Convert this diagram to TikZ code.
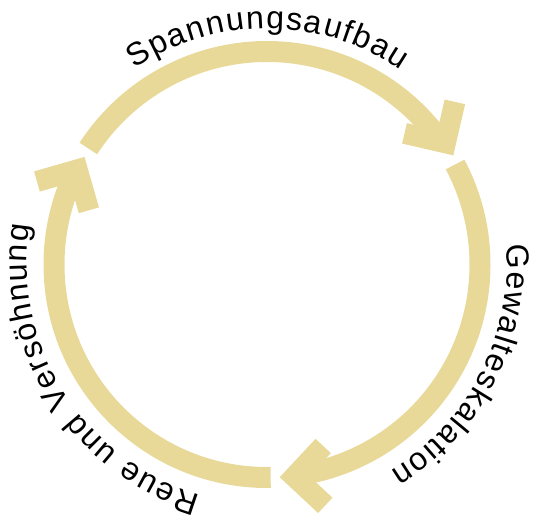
\documentclass[tikz,border=0pt]{standalone}
\usepackage{fontspec}
\setmainfont{Liberation Sans}
\usetikzlibrary{decorations.text}
\definecolor{ringcol}{RGB}{232,217,153}
\tikzstyle{ring} = [draw=ringcol, line width=21pt, line cap=butt]
\tikzstyle{head} = [draw=ringcol, line width=21pt, line cap=butt, line join=miter]
\tikzstyle{arclabel} = [decorate, decoration={text along path, text align=center}]
\newcommand{\cyclefont}{\fontsize{32}{38}\selectfont\kern1.6pt}
% chevron head: #1 angle on ring, #2 radius, #3 pointing direction
\newcommand{\cyclehead}[3]{%
  \draw[head] (mid) ++(#1:#2) ++({#3+135}:42) -- ++({#3-45}:42) -- ++({#3-135}:42);}

\begin{document}
\begin{tikzpicture}[x=1pt, y=1pt]
\useasboundingbox (0,0) rectangle (543,515);
\coordinate (mid) at (267,250.5);

% the three phases
\draw[ring] (mid) ++(147:213) arc[start angle=147, end angle=35, radius=213];
\draw[ring] (mid) ++(28:213) arc[start angle=28, end angle=-82, radius=213];
\draw[ring] (mid) ++(-89:213) arc[start angle=-89, end angle=-206, radius=213];

\cyclehead{34.3}{216}{-58}
\cyclehead{-82.6}{214}{-178}
\cyclehead{153.5}{212}{61}

% labels
\path[arclabel, decoration={text={|\cyclefont|Spannungsaufbau}}]
  (mid) ++(150:236) arc[start angle=150, end angle=30, radius=236];
\path[arclabel, decoration={text={|\cyclefont|Gewalteskalation}}]
  (mid) ++(33:240) arc[start angle=33, end angle=-87, radius=240];
\path[arclabel, decoration={text={|\cyclefont|Reue und Versöhnung}}]
  (mid) ++(-87.6:240) arc[start angle=-87.6, end angle=-207.6, radius=240];
\end{tikzpicture}
\end{document}
